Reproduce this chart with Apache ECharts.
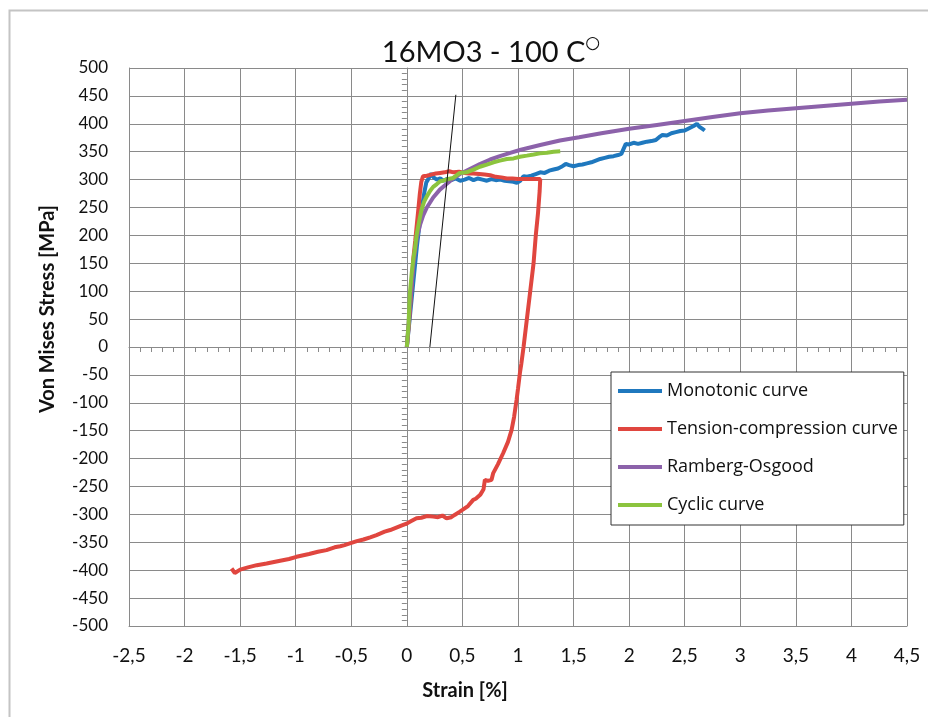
<!DOCTYPE html>
<html>
<head>
<meta charset="utf-8">
<title>16MO3 - 100 C</title>
<script src="https://cdn.jsdelivr.net/npm/echarts@6/dist/echarts.min.js"></script>
<style>
  html, body { margin: 0; padding: 0; background: #fff; }
  #chart { width: 928px; height: 717px; }
</style>
</head>
<body>
<div id="chart"></div>
<script>
// Strain [%] / von Mises stress [MPa] pairs for each curve
const monotonic = [
  [0, 0], [0.03, 60], [0.06, 120], [0.09, 180], [0.12, 230], [0.145, 262], [0.16, 280],
  [0.175, 295], [0.19, 300], [0.205, 303], [0.22, 311], [0.24, 304], [0.27, 300],
  [0.30, 302], [0.33, 298], [0.36, 301], [0.40, 299], [0.44, 302], [0.48, 298],
  [0.52, 300], [0.56, 303], [0.60, 299], [0.64, 302], [0.68, 300], [0.72, 298],
  [0.76, 301], [0.80, 299], [0.84, 300], [0.88, 298], [0.92, 297], [0.96, 296],
  [0.99, 294], [1.02, 298], [1.05, 306], [1.08, 305], [1.12, 307], [1.16, 310],
  [1.20, 313], [1.24, 312], [1.28, 316], [1.32, 318], [1.36, 320], [1.40, 324],
  [1.43, 328], [1.46, 326], [1.50, 324], [1.54, 326], [1.58, 327], [1.62, 329],
  [1.66, 331], [1.70, 334], [1.74, 337], [1.78, 339], [1.82, 341], [1.86, 342],
  [1.90, 344], [1.93, 346], [1.95, 355], [1.97, 364], [2.00, 363], [2.04, 366],
  [2.08, 364], [2.12, 366], [2.16, 368], [2.20, 369], [2.24, 371], [2.27, 376],
  [2.30, 380], [2.34, 379], [2.38, 383], [2.42, 385], [2.46, 387], [2.50, 388],
  [2.54, 392], [2.58, 396], [2.61, 400], [2.63, 395], [2.66, 391], [2.68, 388]
];

const tensionCompression = [
  // tensile loading and plateau
  [0, 0], [0.02, 45], [0.04, 100], [0.057, 156], [0.075, 190], [0.09, 220],
  [0.105, 250], [0.117, 275], [0.13, 296], [0.145, 306], [0.18, 307], [0.22, 309],
  [0.26, 311], [0.30, 312], [0.34, 313], [0.38, 315], [0.42, 313], [0.47, 314],
  [0.52, 312], [0.56, 311], [0.60, 311], [0.65, 310], [0.70, 309], [0.75, 308],
  [0.80, 305], [0.85, 304], [0.90, 302], [0.95, 302], [1.00, 301], [1.05, 301],
  [1.10, 301], [1.15, 301], [1.20, 301],
  // elastic unloading
  [1.195, 280], [1.18, 240], [1.16, 200], [1.14, 150], [1.11, 100], [1.08, 50], [1.05, 0],
  // compression
  [1.03, -30], [1.017, -47], [1.0, -75], [0.987, -95], [0.965, -125], [0.942, -149],
  [0.91, -170], [0.867, -190], [0.82, -210], [0.777, -226], [0.762, -238], [0.73, -240],
  [0.702, -238], [0.69, -255], [0.66, -265], [0.62, -272], [0.597, -274], [0.55, -285],
  [0.50, -292], [0.477, -295], [0.43, -301], [0.40, -305], [0.357, -307], [0.32, -302],
  [0.28, -305], [0.237, -304], [0.18, -303], [0.13, -306], [0.087, -307], [0.04, -312],
  [0.003, -316], [-0.05, -320], [-0.10, -324], [-0.15, -328], [-0.20, -331],
  [-0.273, -337], [-0.33, -341], [-0.39, -345], [-0.45, -348], [-0.513, -352],
  [-0.56, -355], [-0.60, -357], [-0.65, -359], [-0.723, -364], [-0.80, -367],
  [-0.88, -371], [-0.993, -376], [-1.06, -380], [-1.14, -383], [-1.262, -388],
  [-1.35, -391], [-1.43, -395], [-1.50, -399], [-1.548, -405], [-1.577, -397]
];

const rambergOsgood = [
  [0, 0], [0.03, 80], [0.06, 150], [0.09, 195], [0.12, 220], [0.147, 236], [0.18, 250],
  [0.237, 268], [0.297, 282], [0.357, 292], [0.417, 302], [0.477, 310], [0.567, 319],
  [0.657, 328], [0.75, 336], [0.837, 342], [0.93, 348], [1.017, 353], [1.2, 362],
  [1.377, 370], [1.55, 376], [1.75, 383], [2.0, 391], [2.25, 398], [2.5, 405],
  [2.75, 412], [3.0, 419], [3.25, 424], [3.5, 428], [3.75, 432], [4.0, 436],
  [4.25, 440], [4.5, 443]
];

const cyclic = [
  [0, 0], [0.015, 40], [0.027, 96], [0.045, 135], [0.06, 160], [0.072, 175],
  [0.087, 200], [0.102, 216], [0.117, 232], [0.132, 246], [0.155, 260], [0.177, 269],
  [0.21, 280], [0.237, 287], [0.27, 292], [0.30, 297], [0.327, 298], [0.37, 301],
  [0.417, 303], [0.477, 312], [0.537, 313], [0.60, 318], [0.657, 323], [0.72, 327],
  [0.78, 331], [0.837, 334], [0.90, 337], [0.96, 338], [1.017, 341], [1.08, 343],
  [1.14, 345], [1.197, 347], [1.26, 348], [1.32, 350], [1.38, 351]
];

// 0.2 % offset line
const offsetLine = [[0.207, 0], [0.441, 452]];

const seriesNames = ['Monotonic curve', 'Tension-compression curve', 'Ramberg-Osgood', 'Cyclic curve'];
const seriesColors = ['#1f78be', '#e0463f', '#8c62aa', '#8cc43e'];

const strainRange = [-2.5, 4.5];
const stressRange = [-500, 500];

const FONT = 'Lato, "Open Sans", sans-serif';
const LEGEND_FONT = '"Open Sans", Lato, sans-serif';
const GRID_COLOR = '#8a8a8a';

const chart = echarts.init(document.getElementById('chart'), null, { renderer: 'canvas' });

function curve(name, data, color) {
  return {
    name: name,
    type: 'line',
    data: data,
    xAxisIndex: 0,
    yAxisIndex: 0,
    showSymbol: false,
    symbol: 'none',
    lineStyle: { color: color, width: 4 },
    itemStyle: { color: color },
    animation: false
  };
}

const option = {
  backgroundColor: '#fff',
  animation: false,
  title: {
    text: '16MO3 - 100 C{deg|○}',
    left: 486,
    top: 30,
    textAlign: 'center',
    textStyle: {
      fontFamily: FONT,
      fontSize: 29,
      fontWeight: 'normal',
      color: '#111',
      lineHeight: 36,
      rich: {
        deg: { fontFamily: '"DejaVu Sans", sans-serif', fontSize: 17, color: '#111', verticalAlign: 'top', lineHeight: 22 }
      }
    }
  },
  legend: {
    data: seriesNames,
    orient: 'vertical',
    left: 611,
    top: 372,
    icon: 'rect',
    itemWidth: 44,
    itemHeight: 4,
    itemGap: 18,
    padding: [9, 6, 10, 7],
    borderColor: '#333',
    borderWidth: 1,
    backgroundColor: '#fff',
    textStyle: { fontFamily: LEGEND_FONT, fontSize: 18, lineHeight: 20, color: '#111' }
  },
  grid: { left: 129, right: 21, top: 68, bottom: 91, containLabel: false },
  xAxis: [
    {
      type: 'value',
      min: strainRange[0],
      max: strainRange[1],
      interval: 0.5,
      position: 'bottom',
      axisLine: { show: true, onZero: false, lineStyle: { color: GRID_COLOR, width: 1 } },
      axisTick: { show: false },
      axisLabel: {
        margin: 20,
        fontFamily: FONT,
        fontSize: 19,
        color: '#111',
        formatter: v => String(v).replace('.', ',')
      },
      splitLine: { show: true, lineStyle: { color: GRID_COLOR, width: 1 } }
    },
    {
      type: 'value',
      min: strainRange[0],
      max: strainRange[1],
      interval: 0.5,
      position: 'bottom',
      axisLine: { show: true, onZero: true, onZeroAxisIndex: 0, lineStyle: { color: GRID_COLOR, width: 1 } },
      axisTick: { show: true, length: 5, lineStyle: { color: GRID_COLOR } },
      minorTick: { show: true, splitNumber: 5, length: 5, lineStyle: { color: GRID_COLOR } },
      axisLabel: { show: false },
      splitLine: { show: false }
    }
  ],
  yAxis: [
    {
      type: 'value',
      min: stressRange[0],
      max: stressRange[1],
      interval: 50,
      position: 'left',
      axisLine: { show: true, onZero: false, lineStyle: { color: GRID_COLOR, width: 1 } },
      axisTick: { show: false },
      axisLabel: { margin: 21, fontFamily: FONT, fontSize: 17, color: '#111' },
      splitLine: { show: true, lineStyle: { color: GRID_COLOR, width: 1 } }
    },
    {
      type: 'value',
      min: stressRange[0],
      max: stressRange[1],
      interval: 50,
      position: 'left',
      axisLine: { show: true, onZero: true, onZeroAxisIndex: 0, lineStyle: { color: GRID_COLOR, width: 1 } },
      axisTick: { show: true, length: 5, lineStyle: { color: GRID_COLOR } },
      minorTick: { show: true, splitNumber: 5, length: 5, lineStyle: { color: GRID_COLOR } },
      axisLabel: { show: false },
      splitLine: { show: false }
    }
  ],
  graphic: [
    {
      type: 'rect',
      left: 7,
      top: 8,
      shape: { width: 1000, height: 1000 },
      style: { fill: 'none', stroke: '#c4c4c4', lineWidth: 2 },
      silent: true,
      z: -10
    },
    {
      type: 'text',
      x: 48,
      y: 309,
      rotation: Math.PI / 2,
      style: {
        text: 'Von Mises Stress [MPa]',
        font: 'bold 20px ' + FONT,
        fill: '#111',
        textAlign: 'center',
        textVerticalAlign: 'middle'
      }
    },
    {
      type: 'text',
      x: 465,
      y: 691,
      style: {
        text: 'Strain [%]',
        font: 'bold 20px ' + FONT,
        fill: '#111',
        textAlign: 'center',
        textVerticalAlign: 'middle'
      }
    }
  ],
  series: [
    curve(seriesNames[0], monotonic, seriesColors[0]),
    curve(seriesNames[1], tensionCompression, seriesColors[1]),
    curve(seriesNames[2], rambergOsgood, seriesColors[2]),
    curve(seriesNames[3], cyclic, seriesColors[3]),
    {
      name: 'offset',
      type: 'line',
      data: offsetLine,
      showSymbol: false,
      symbol: 'none',
      lineStyle: { color: '#111', width: 1 },
      animation: false,
      z: 3
    }
  ]
};

chart.setOption(option);
</script>
</body>
</html>
